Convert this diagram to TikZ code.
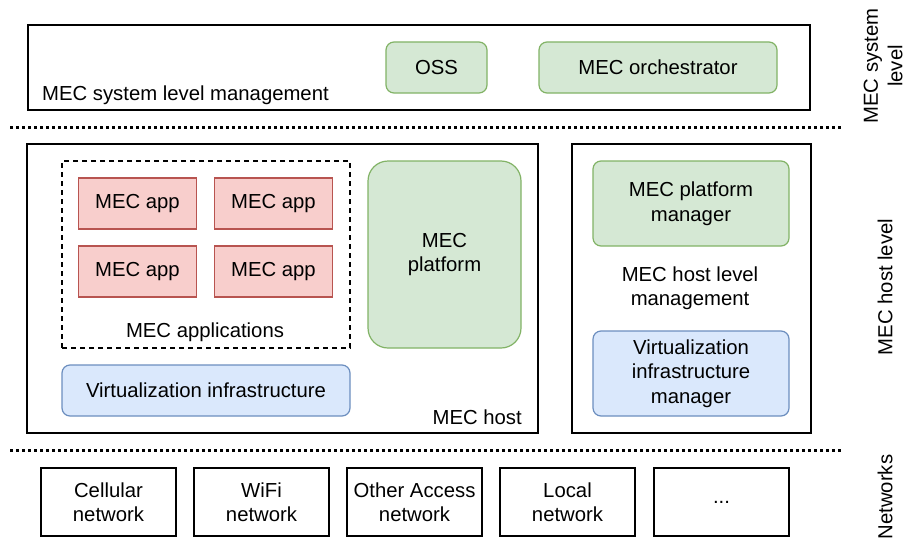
\documentclass[tikz,border=0pt]{standalone}
\usepackage{fontspec}
\setmainfont{Liberation Sans}
\begin{document}
\begin{tikzpicture}[x=1pt,y=-1pt,
  every node/.style={font=\fontsize{20.3}{24.5}\selectfont, inner sep=0pt},
  plain/.style={draw=black, line width=1.3pt, fill=white},
  greenbox/.style={draw=greenstroke, fill=greenfill, line width=1.2pt, rounded corners=8pt, align=center},
  redbox/.style={draw=redstroke, fill=redfill, line width=1.2pt, align=center},
  bluebox/.style={draw=bluestroke, fill=bluefill, line width=1.2pt, rounded corners=8pt, align=center},
  netbox/.style={draw=black, line width=1.2pt, fill=white, align=center},
  sep/.style={line width=3pt, dash pattern=on 3pt off 3pt},
  lbl/.style={align=center}]
\definecolor{greenfill}{HTML}{D5E8D4}
\definecolor{greenstroke}{HTML}{82B366}
\definecolor{redfill}{HTML}{F8CECC}
\definecolor{redstroke}{HTML}{B85450}
\definecolor{bluefill}{HTML}{DAE8FC}
\definecolor{bluestroke}{HTML}{6C8EBF}
\useasboundingbox (0,0) rectangle (909,543);

% system level
\node[plain, minimum width=782pt, minimum height=85pt] (sys) at (419,67.5) {};
\node[greenbox, minimum width=101pt, minimum height=51pt] (oss) at (436.5,67.5) {OSS};
\node[greenbox, minimum width=238pt, minimum height=51pt] (orch) at (658,67.5) {MEC orchestrator};
\node[anchor=west] (syslbl) at (42,95) {MEC system level management};

\coordinate (d1a) at (10,127);
\coordinate (d1b) at (843,127);
\draw[sep] (d1a) -- (d1b);

% MEC host
\node[plain, minimum width=511pt, minimum height=289pt] (host) at (282.5,288.5) {};
\node[draw=black, line width=1.2pt, dash pattern=on 5pt off 4pt, minimum width=288pt, minimum height=187pt] (apps) at (206,254.5) {};
\node[redbox, minimum width=118pt, minimum height=51pt] (app1) at (137.5,203.5) {MEC app};
\node[redbox, minimum width=118pt, minimum height=51pt] (app2) at (273.5,203.5) {MEC app};
\node[redbox, minimum width=118pt, minimum height=51pt] (app3) at (137.5,271.5) {MEC app};
\node[redbox, minimum width=118pt, minimum height=51pt] (app4) at (273.5,271.5) {MEC app};
\node (appslbl) at (205,332) {MEC applications};
\node[greenbox, rounded corners=20pt, minimum width=153pt, minimum height=187pt] (plat) at (444.5,254.5) {MEC\\platform};
\node[bluebox, minimum width=288pt, minimum height=51pt] (vi) at (206,390.5) {Virtualization infrastructure};
\node[anchor=east] (hostlbl) at (522,417) {MEC host};

% host level management
\node[plain, minimum width=239pt, minimum height=289pt] (mgmt) at (691.5,288.5) {};
\node[greenbox, minimum width=196pt, minimum height=85pt] (pm) at (691,203.5) {MEC platform\\manager};
\node[lbl] (mgmtlbl) at (690,288) {MEC host level\\management};
\node[bluebox, minimum width=196pt, minimum height=85pt] (vim) at (691,373.5) {Virtualization\\infrastructure\\manager};

\coordinate (d2a) at (10,450);
\coordinate (d2b) at (843,450);
\draw[sep] (d2a) -- (d2b);

% networks
\node[netbox, minimum width=135pt, minimum height=68pt] (n1) at (108.5,502) {Cellular\\network};
\node[netbox, minimum width=135pt, minimum height=68pt] (n2) at (261.5,502) {WiFi\\network};
\node[netbox, minimum width=135pt, minimum height=68pt] (n3) at (414.5,502) {Other Access\\network};
\node[netbox, minimum width=135pt, minimum height=68pt] (n4) at (567.5,502) {Local\\network};
\node[netbox, minimum width=135pt, minimum height=68pt] (n5) at (721.5,502) {...};

% side labels
\node[lbl, rotate=90] (l1) at (883,66) {MEC system\\level};
\node[lbl, rotate=90] (l2) at (885,287) {MEC host level};
\node[lbl, rotate=90] (l3) at (885,497) {Networks};
\end{tikzpicture}
\end{document}
